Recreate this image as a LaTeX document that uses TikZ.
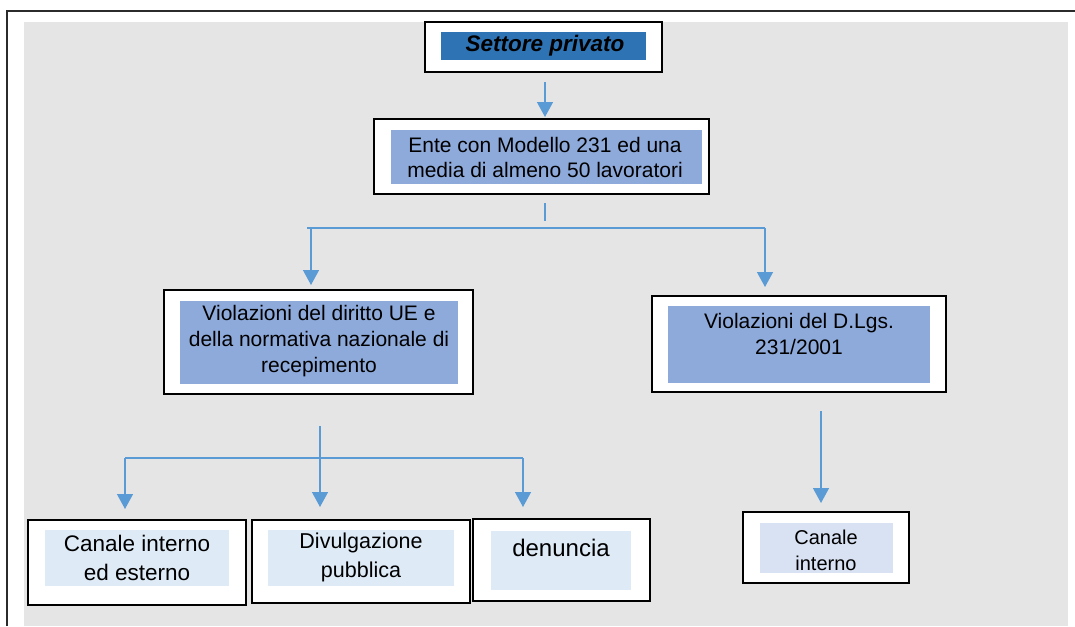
\documentclass[tikz,border=0pt]{standalone}
\usepackage{fontspec}
\setmainfont{Liberation Sans}
\usetikzlibrary{arrows.meta}
\definecolor{bggray}{HTML}{E5E5E5}
\definecolor{framegray}{HTML}{2B2B2B}
\definecolor{darkblue}{HTML}{2E74B5}
\definecolor{midblue}{HTML}{8EAADB}
\definecolor{paleblue}{HTML}{DEEAF6}
\definecolor{paleblueb}{HTML}{D9E2F3}
\definecolor{arrowblue}{HTML}{5B9BD5}
\begin{document}
\begin{tikzpicture}[x=1pt,y=-1pt,
  obox/.style={draw=black,line width=1.4pt,fill=white,inner sep=0pt,outer sep=0pt},
  txt/.style={inner sep=0pt,outer sep=0pt,align=center,text=black},
  conn/.style={draw=arrowblue,line width=1.4pt},
  arr/.style={conn,-{Triangle[width=16pt,length=15pt]}}]
\useasboundingbox (0,0) rectangle (1075,626);
% background and frame
\fill[bggray] (24,22) rectangle (1068,626);
\draw[framegray,line width=2.5pt] (7,626) -- (7,11) -- (1075,11);

% top box
\node[obox,minimum width=237pt,minimum height=50pt] (settore) at (543.5,47) {};
\fill[darkblue] (441,32) rectangle (646,60);
\node[txt,font=\fontsize{22.5}{26}\selectfont\bfseries\itshape] (tsettore) at (545,46) {Settore privato};

% ente
\node[obox,minimum width=335pt,minimum height=75pt] (ente) at (541.5,156.5) {};
\fill[midblue] (391,130) rectangle (702,184);
\node[txt,font=\fontsize{21}{25}\selectfont] (tente) at (545,157) {Ente con Modello 231 ed una\\media di almeno 50 lavoratori};

% second level
\node[obox,minimum width=309pt,minimum height=104pt] (vue) at (318.5,342) {};
\fill[midblue] (180,301) rectangle (458,384);
\node[txt,font=\fontsize{21}{26}\selectfont] (tvue) at (319,341) {Violazioni del diritto UE e\\della normativa nazionale di\\recepimento};

\node[obox,minimum width=294pt,minimum height=96pt] (dlgs) at (799,344) {};
\fill[midblue] (668,306) rectangle (930,383);
\node[txt,font=\fontsize{21}{26}\selectfont] (tdlgs) at (799,334) {Violazioni del D.Lgs.\\231/2001};

% bottom level
\node[obox,minimum width=218pt,minimum height=85pt] (canale) at (137,562.5) {};
\fill[paleblue] (45,530) rectangle (229,586);
\node[txt,font=\fontsize{22.5}{29}\selectfont] (tcanale) at (137,557.5) {Canale interno\\ed esterno};

\node[obox,minimum width=218pt,minimum height=83pt] (divulg) at (361,561.5) {};
\fill[paleblue] (268,530) rectangle (454,586);
\node[txt,font=\fontsize{21.5}{29}\selectfont] (tdivulg) at (361,557.5) {Divulgazione\\pubblica};

\node[obox,minimum width=177pt,minimum height=82pt] (denuncia) at (561.5,560) {};
\fill[paleblue] (491,531) rectangle (631,590);
\node[txt,font=\fontsize{24}{28}\selectfont] (tdenuncia) at (561,548) {denuncia};

\node[obox,minimum width=166pt,minimum height=71pt] (interno) at (826,547.5) {};
\fill[paleblueb] (760,523) rectangle (893,573);
\node[txt,font=\fontsize{20}{26}\selectfont] (tinterno) at (826,550) {Canale\\interno};

% connectors
\coordinate (a1) at (545,82);
\draw[arr,shorten >=2pt] (a1) -- (a1 |- ente.north);

\coordinate (s1) at (545,203);
\coordinate (s2) at (545,221);
\draw[conn] (s1) -- (s2);
\coordinate (hl) at (307,228);
\coordinate (hr) at (765,228);
\coordinate (hv) at (311,228);
\draw[conn] (hl) -- (hr);
\draw[arr,shorten >=5pt] (hv) -- (hv |- vue.north);
\draw[arr,shorten >=9pt] (hr) -- (hr |- dlgs.north);

\coordinate (b0) at (320,426);
\draw[arr,shorten >=13pt] (b0) -- (b0 |- divulg.north);
\coordinate (bl) at (125,458);
\coordinate (br) at (523,458);
\draw[conn] (bl) -- (br);
\draw[arr,shorten >=11pt] (bl) -- (bl |- canale.north);
\draw[arr,shorten >=12pt] (br) -- (br |- denuncia.north);

\coordinate (c0) at (821,411);
\draw[arr,shorten >=9pt] (c0) -- (c0 |- interno.north);
\end{tikzpicture}
\end{document}
